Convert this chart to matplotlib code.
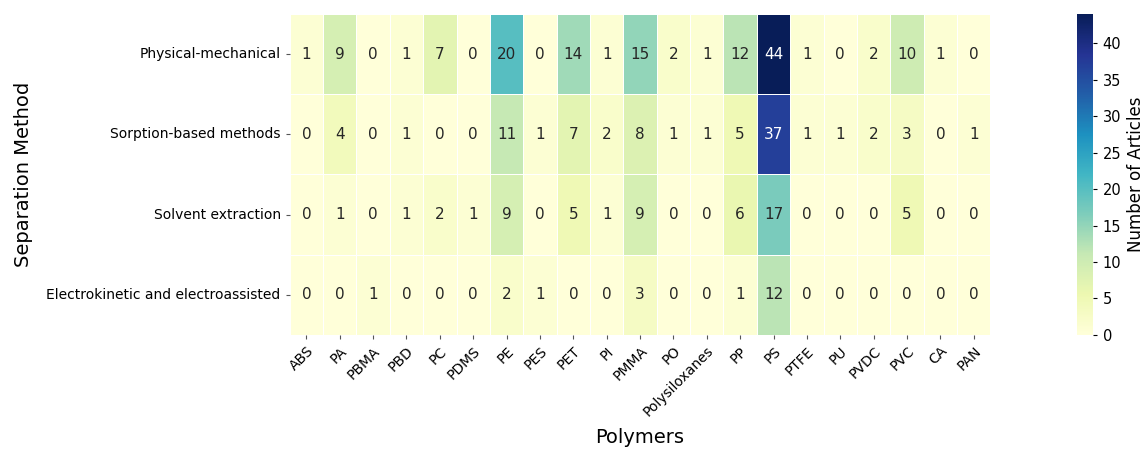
import numpy as np
import pandas as pd
import matplotlib
matplotlib.use("Agg")
import matplotlib.pyplot as plt
import seaborn as sns

methods = ["Physical-mechanical", "Sorption-based methods",
           "Solvent extraction", "Electrokinetic and electroassisted"]
polymers = ["ABS", "PA", "PBMA", "PBD", "PC", "PDMS", "PE", "PES", "PET", "PI",
            "PMMA", "PO", "Polysiloxanes", "PP", "PS", "PTFE", "PU", "PVDC",
            "PVC", "CA", "PAN"]

physical = [1, 9, 0, 1, 7, 0, 20, 0, 14, 1, 15, 2, 1, 12, 44, 1, 0, 2, 10, 1, 0]
sorption = [0, 4, 0, 1, 0, 0, 11, 1, 7, 2, 8, 1, 1, 5, 37, 1, 1, 2, 3, 0, 1]
solvent = [0, 1, 0, 1, 2, 1, 9, 0, 5, 1, 9, 0, 0, 6, 17, 0, 0, 0, 5, 0, 0]
electro = [0, 0, 1, 0, 0, 0, 2, 1, 0, 0, 3, 0, 0, 1, 12, 0, 0, 0, 0, 0, 0]

df = pd.DataFrame([physical, sorption, solvent, electro],
                  index=methods, columns=polymers)

fig = plt.figure(figsize=(11.45, 4.49), dpi=100)
ax = fig.add_axes([0.253, 0.254, 0.612, 0.715])
cax = fig.add_axes([0.941, 0.254, 0.014, 0.715])

sns.heatmap(df, ax=ax, cbar_ax=cax, cmap="YlGnBu", annot=True, fmt="d",
            linewidths=0.5, linecolor="white",
            annot_kws={"fontsize": 11},
            cbar_kws={"label": "Number of Articles"})

ax.set_xlabel("Polymers", fontsize=14)
ax.xaxis.set_label_coords(0.5, -0.29)
ax.set_ylabel("Separation Method", fontsize=14, labelpad=10)
ax.set_xticklabels(ax.get_xticklabels(), rotation=45, ha="right",
                   rotation_mode="anchor", fontsize=10)
ax.set_yticklabels(ax.get_yticklabels(), rotation=0, fontsize=10)
ax.tick_params(axis="both", length=3, color="#555555")

cax.tick_params(labelsize=10.5, length=3)
cax.yaxis.label.set_size(12)
cax.set_yticks([0, 5, 10, 15, 20, 25, 30, 35, 40])

fig.savefig("out.png", dpi=100)
